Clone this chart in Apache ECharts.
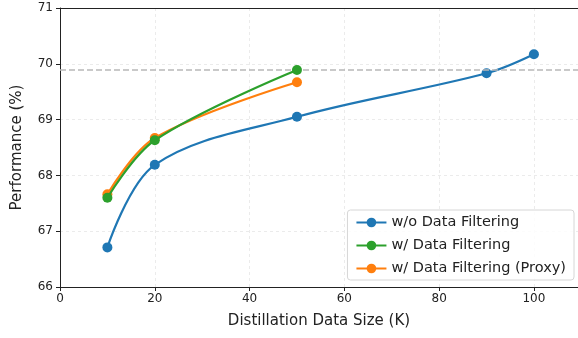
<!DOCTYPE html>
<html>
<head>
<meta charset="utf-8">
<script src="https://cdn.jsdelivr.net/npm/echarts@6/dist/echarts.min.js"></script>
<style>
  html, body { margin: 0; padding: 0; background: #fff; }
  #chart { width: 578px; height: 338px; }
</style>
</head>
<body>
<div id="chart"></div>
<script>
const seriesNames = ['w/o Data Filtering', 'w/ Data Filtering', 'w/ Data Filtering (Proxy)']
const sizesNoFilter = [10, 20, 50, 90, 100]
const perfNoFilter = [66.71, 68.19, 69.05, 69.83, 70.17]
const sizesFilter = [10, 20, 50]
const perfFilter = [67.6, 68.63, 69.89]
const sizesProxy = [10, 20, 50]
const perfProxy = [67.66, 68.67, 69.67]
const referenceLine = 69.9
const colors = ['#1f77b4', '#2ca02c', '#ff7f0e']
const zOrder = [3, 5, 4]

const chart = echarts.init(document.getElementById('chart'))
const font = 'DejaVu Sans'

function makeSeries(i, xs, ys) {
  return {
    name: seriesNames[i],
    type: 'line',
    smooth: 0.35,
    symbol: 'circle',
    symbolSize: 10,
    z: zOrder[i],
    lineStyle: { width: 2.2, color: colors[i] },
    itemStyle: { color: colors[i] },
    data: xs.map((x, k) => [x, ys[k]])
  }
}

const series = [
  makeSeries(0, sizesNoFilter, perfNoFilter),
  makeSeries(1, sizesFilter, perfFilter),
  makeSeries(2, sizesProxy, perfProxy)
]
series[0].markLine = {
  silent: true,
  symbol: 'none',
  label: { show: false },
  lineStyle: { color: '#b8b8b8', type: [6, 3], width: 1.5 },
  data: [{ yAxis: referenceLine }]
}

chart.setOption({
  animation: false,
  textStyle: { fontFamily: font },
  grid: { left: 60, right: 0, top: 8, bottom: 51 },
  legend: {
    orient: 'vertical',
    right: 4,
    bottom: 58,
    itemWidth: 30,
    itemHeight: 12,
    itemGap: 8,
    padding: [5, 8, 4, 8],
    borderColor: '#d6d6d6',
    borderWidth: 1,
    borderRadius: 3,
    backgroundColor: 'rgba(255,255,255,0.85)',
    textStyle: { fontSize: 14.5, color: '#222', fontFamily: font },
    data: seriesNames
  },
  xAxis: [{
    type: 'value',
    min: 0,
    max: 109.3,
    interval: 20,
    name: 'Distillation Data Size (K)',
    nameLocation: 'middle',
    nameGap: 27,
    nameTextStyle: { fontSize: 15, color: '#222', fontFamily: font },
    axisLine: { show: true, lineStyle: { color: '#222', width: 1 } },
    axisTick: { show: true, length: 4, lineStyle: { color: '#222' } },
    axisLabel: { fontSize: 12, color: '#222', margin: 6, showMaxLabel: false },
    splitLine: { show: true, lineStyle: { color: '#ebebeb', type: [3, 3] } }
  }, {
    type: 'value',
    position: 'top',
    min: 0,
    max: 109.3,
    axisLine: { show: true, onZero: false, lineStyle: { color: '#222', width: 1 } },
    axisTick: { show: false },
    axisLabel: { show: false },
    splitLine: { show: false }
  }],
  yAxis: {
    type: 'value',
    min: 66,
    max: 71,
    interval: 1,
    name: 'Performance (%)',
    nameLocation: 'middle',
    nameGap: 35,
    nameTextStyle: { fontSize: 15, color: '#222', fontFamily: font },
    axisLine: { show: true, lineStyle: { color: '#222', width: 1 } },
    axisTick: { show: true, length: 4, lineStyle: { color: '#222' } },
    axisLabel: { fontSize: 12, color: '#222', margin: 7 },
    splitLine: { show: true, lineStyle: { color: '#ebebeb', type: [3, 3] } }
  },
  series: series
})
</script>
</body>
</html>
